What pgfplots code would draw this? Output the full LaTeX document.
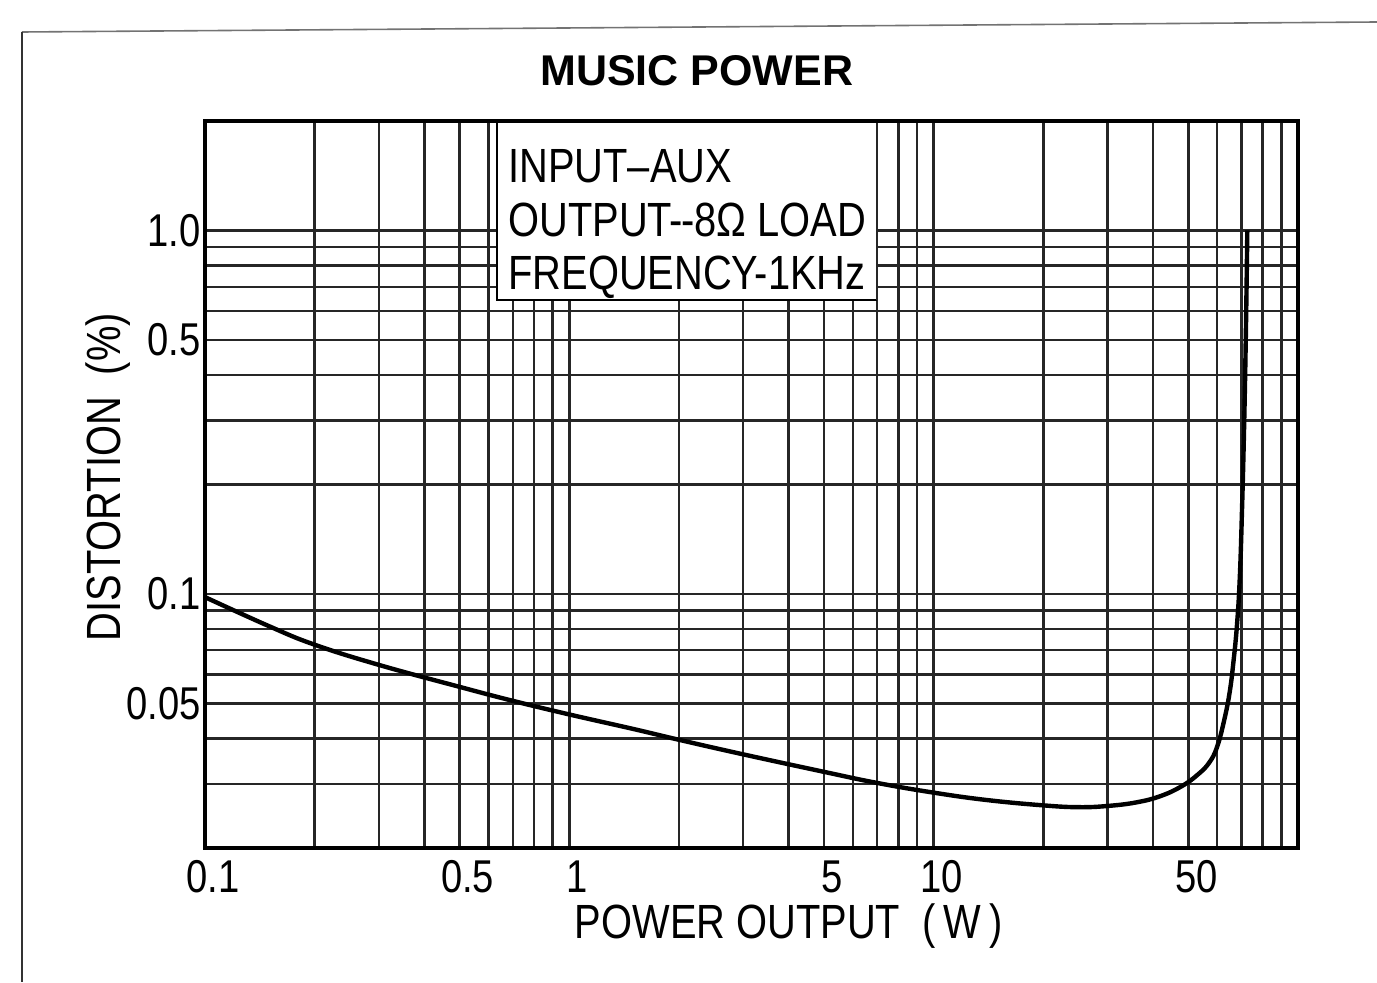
\documentclass[border=0pt]{standalone}
\usepackage{fontspec}
\setmainfont{Liberation Sans}[FakeStretch=0.83]
\newfontfamily\titlefont{Liberation Sans}
\usepackage{pgfplots}
\pgfplotsset{compat=1.18}
\begin{document}
\begin{tikzpicture}[x=0.5pt,y=0.5pt]
\useasboundingbox (0,0) rectangle (1377,982);
\draw[black!55, line width=0.8pt] (22,950) -- (1377,960);
\draw[black!80, line width=1pt] (22,950) -- (22,0);
\begin{axis}[
  at={(102.5pt,67pt)}, anchor=south west,
  scale only axis, width=546.5pt, height=363.5pt,
  xmode=log, ymode=log,
  xmin=0.1, xmax=100, ymin=0.02, ymax=2,
  xtick={0.1,0.2,0.3,0.4,0.5,0.6,0.7,0.8,0.9,1,2,3,4,5,6,7,8,9,10,20,30,40,50,60,70,80,90,100},
  xticklabels={0.1,{},{},{},0.5,{},{},{},{},1,{},{},{},5,{},{},{},{},10,{},{},{},50,{},{},{},{},{}},
  ytick={0.02,0.03,0.04,0.05,0.06,0.07,0.08,0.09,0.1,0.2,0.3,0.4,0.5,0.6,0.7,0.8,0.9,1,2},
  yticklabels={{},{},{},0.05,{},{},{},{},0.1,{},{},{},0.5,{},{},{},{},1.0,{}},
  /pgf/number format/assume math mode=true,
  major tick length=0pt, minor tick length=0pt,
  grid=major,
  major grid style={black!85, line width=1.2pt},
  axis line style={black, line width=1.7pt},
  tick label style={font=\fontsize{23}{26}\selectfont},
  xticklabel style={inner sep=0pt, anchor=north, yshift=-6pt, xshift=4pt},
  yticklabel style={inner sep=0pt, anchor=east, xshift=-2pt},
  xlabel={POWER OUTPUT\ \ (\,W\,)},
  ylabel={DISTORTION\ \ (\%)},
  label style={font=\fontsize{24}{28}\selectfont},
  xlabel style={at={(axis description cs:0.534,-0.107)}, anchor=center},
  ylabel style={at={(axis description cs:-0.0887,0.51)}, anchor=center},
  title={\titlefont\bfseries MUSIC POWER},
  title style={at={(axis description cs:0.450,1.053)}, anchor=center, font=\fontsize{21.5}{24}\selectfont},
]
\addplot[black, line width=2.2pt, smooth, tension=0.7] coordinates {
(0.1,0.098) (0.15,0.0815) (0.2,0.0725) (0.3,0.0638) (0.5,0.0555) (0.7,0.0508)
(1,0.0466) (1.5,0.0425) (2,0.0397) (3,0.0362) (5,0.0324) (7,0.0302)
(10,0.0284) (14,0.0271) (20,0.0262) (25,0.0259) (30,0.0261) (36,0.0267)
(42,0.0278) (48,0.0296) (53,0.0318) (57,0.0343) (60,0.0380) (62.9,0.0455)
(65,0.0540) (66.5,0.065) (68,0.082) (69.2,0.11) (70.2,0.17) (71.2,0.30)
(72,0.55) (72.6,1.0)
};
\end{axis}
\fill[white] (497,682) rectangle (877,859);
\draw[black, line width=1pt] (497,859) -- (497,682) -- (877,682);
\draw[black!85, line width=1.2pt] (877,682) -- (877,859);
\begin{scope}[every node/.style={anchor=base west, inner sep=0pt, font=\fontsize{24}{28}\selectfont}]
\node at (508,799) {INPUT–AUX};
\node at (508,745) {OUTPUT-\kern-1pt-8Ω LOAD};
\node at (508,692) {FREQUENCY-1KHz};
\end{scope}
\end{tikzpicture}
\end{document}
